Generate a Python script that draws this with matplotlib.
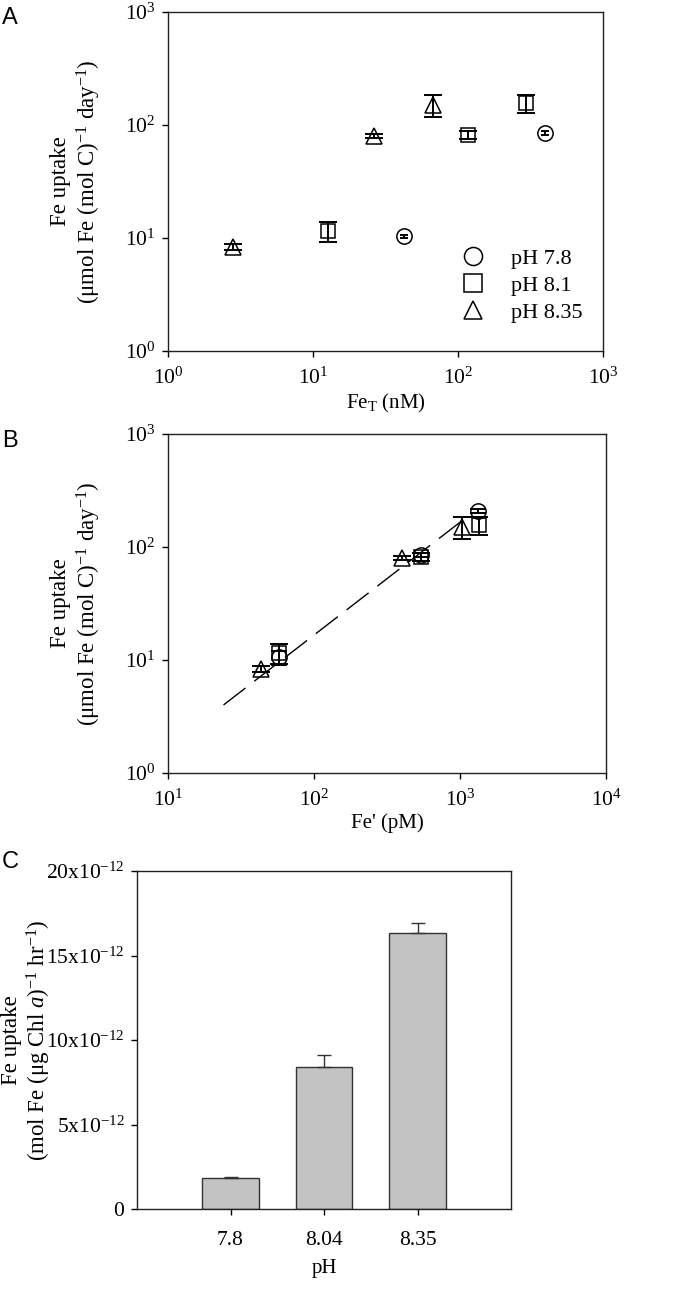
import matplotlib
matplotlib.use("Agg")
import matplotlib.pyplot as plt
from matplotlib.ticker import LogLocator, NullLocator, FixedLocator, FixedFormatter
from matplotlib.lines import Line2D
import numpy as np

plt.rcParams['font.family'] = ['Liberation Serif', 'DejaVu Serif']
plt.rcParams['mathtext.fontset'] = 'custom'
plt.rcParams['mathtext.rm'] = 'Liberation Serif'
plt.rcParams['mathtext.it'] = 'Liberation Serif:italic'
plt.rcParams['mathtext.bf'] = 'Liberation Serif:bold'

# ---------------- Panel A data (Fe uptake vs Fe_T, nM) ----------------
a_ph78_x = [42.5, 398]
a_ph78_y = [10.4, 85]
a_ph78_err = [0.3, 3]

a_ph81_x = [12.7, 117, 295]
a_ph81_y = [11.5, 82, 156]
a_ph81_err = [2.3, 7, 28]

a_ph835_x = [2.8, 26.3, 67]
a_ph835_y = [8.3, 80, 150]
a_ph835_err = [0.5, 4, 33]

# ---------------- Panel B data (Fe uptake vs Fe', pM) ----------------
b_ph78_x = [58, 537, 1330]
b_ph78_y = [10.6, 85, 208]
b_ph78_err = [1.5, 3, 10]

b_ph81_x = [58, 537, 1340]
b_ph81_y = [11.5, 82, 156]
b_ph81_err = [2.3, 7, 28]

b_ph835_x = [43.5, 400, 1030]
b_ph835_y = [8.3, 80, 150]
b_ph835_err = [0.5, 4, 33]

fit_x = [24, 1100]
fit_y = [4.0, 182]

# ---------------- Panel C data (bar chart) ----------------
c_ph_labels = ['7.8', '8.04', '8.35']
c_uptake = [1.83e-12, 8.40e-12, 16.35e-12]
c_err = [0.07e-12, 0.71e-12, 0.59e-12]
c_yticks = [0, 5e-12, 10e-12, 15e-12, 20e-12]
c_yticklabels = ['0', r'5x10$^{-12}$', r'10x10$^{-12}$', r'15x10$^{-12}$', r'20x10$^{-12}$']

series_labels = ['pH 7.8', 'pH 8.1', 'pH 8.35']
series_markers = ['o', 's', '^']

W, H = 680, 1291
fig = plt.figure(figsize=(W / 100, H / 100), dpi=100)


def px_axes(l, t, r, b):
    return fig.add_axes([l / W, 1 - b / H, (r - l) / W, (b - t) / H])


TICK_FS = 15.5
XLAB_FS = 15
YLAB_FS = 16.5
ylab_text = 'Fe uptake\n' + r'($\mathrm{\mu}$mol Fe (mol C)$^{-1}$ day$^{-1}$)'


def style_log_axes(ax):
    ax.set_xscale('log')
    ax.set_yscale('log')
    ax.xaxis.set_major_locator(LogLocator(base=10, numticks=10))
    ax.yaxis.set_major_locator(LogLocator(base=10, numticks=10))
    ax.xaxis.set_minor_locator(NullLocator())
    ax.yaxis.set_minor_locator(NullLocator())
    ax.tick_params(direction='out', length=4, width=1, labelsize=TICK_FS, pad=5)
    ax.tick_params(axis='x', pad=8)
    for s in ax.spines.values():
        s.set_linewidth(1.0)
        s.set_color('#222222')


def draw_series(ax, xs, ys, errs, marker, label, cap, ms):
    ax.errorbar(xs, ys, yerr=errs, fmt='none', ecolor='black', elinewidth=1.4,
                capsize=cap, capthick=1.4, zorder=3)
    ax.plot(xs, ys, linestyle='none', marker=marker, markersize=ms,
            markerfacecolor='none', markeredgecolor='black', markeredgewidth=1.1,
            label=label, zorder=4)


# ---------------- Panel A ----------------
axA = px_axes(168, 12, 603, 351)
style_log_axes(axA)
axA.set_xlim(1, 1000)
axA.set_ylim(1, 1000)
draw_series(axA, a_ph78_x, a_ph78_y, a_ph78_err, 'o', series_labels[0], 3, 11)
draw_series(axA, a_ph81_x, a_ph81_y, a_ph81_err, 's', series_labels[1], 6.5, 10.5)
draw_series(axA, a_ph835_x, a_ph835_y, a_ph835_err, '^', series_labels[2], 6.5, 11)
axA.set_xlabel(r'Fe$_{\mathrm{T}}$ (nM)', fontsize=XLAB_FS, labelpad=2)
axA.set_ylabel(ylab_text, fontsize=YLAB_FS, linespacing=1.15)
axA.yaxis.set_label_coords(-0.15, 0.5)

handles = [Line2D([], [], linestyle='none', marker=m, markersize=13,
                  markerfacecolor='none', markeredgecolor='black', markeredgewidth=1.1)
           for m in series_markers]
axA.legend(handles, series_labels, loc='upper left', frameon=False, fontsize=16,
           bbox_to_anchor=(460 / W, 1 - 248 / H), bbox_transform=fig.transFigure,
           borderpad=0, borderaxespad=0, handlelength=1.2, handletextpad=1.1,
           labelspacing=0.3)

# ---------------- Panel B ----------------
axB = px_axes(168, 434, 606, 773)
style_log_axes(axB)
axB.set_xlim(10, 10000)
axB.set_ylim(1, 1000)
axB.plot(fit_x, fit_y, color='black', linewidth=1.0, dashes=(20, 8), zorder=2)
draw_series(axB, b_ph78_x, b_ph78_y, b_ph78_err, 'o', series_labels[0], 6, 11)
draw_series(axB, b_ph81_x, b_ph81_y, b_ph81_err, 's', series_labels[1], 6.5, 10.5)
draw_series(axB, b_ph835_x, b_ph835_y, b_ph835_err, '^', series_labels[2], 6.5, 11)
axB.set_xlabel("Fe' (pM)", fontsize=XLAB_FS, labelpad=2)
axB.set_ylabel(ylab_text, fontsize=YLAB_FS, linespacing=1.15)
axB.yaxis.set_label_coords(-0.149, 0.5)

# ---------------- Panel C ----------------
axC = px_axes(137, 871, 511, 1209)
pos = np.arange(1, len(c_ph_labels) + 1)
axC.bar(pos, c_uptake, width=0.6, color='#c3c3c3', edgecolor='#333333', linewidth=1.0, zorder=2)
axC.errorbar(pos, c_uptake, yerr=[np.zeros(len(c_err)), c_err], fmt='none',
             ecolor='#333333', elinewidth=1.0, capsize=5, capthick=1.0, zorder=3)
axC.set_xlim(0, 4)
axC.set_ylim(0, 20e-12)
axC.xaxis.set_major_locator(FixedLocator(pos))
axC.xaxis.set_major_formatter(FixedFormatter(c_ph_labels))
axC.yaxis.set_major_locator(FixedLocator(c_yticks))
axC.yaxis.set_major_formatter(FixedFormatter(c_yticklabels))
axC.tick_params(direction='out', length=4, width=1, labelsize=TICK_FS, pad=5)
axC.tick_params(axis='x', pad=12)
for s in axC.spines.values():
    s.set_linewidth(1.0)
    s.set_color('#222222')
axC.set_xlabel('pH', fontsize=XLAB_FS, labelpad=6)
axC.set_ylabel('Fe uptake\n' + r'(mol Fe ($\mathrm{\mu}$g Chl $a$)$^{-1}$ hr$^{-1}$)',
               fontsize=YLAB_FS, linespacing=1.15)
axC.yaxis.set_label_coords(-0.225, 0.5)

# ---------------- Panel letters ----------------
for letter, y in [('A', 18), ('B', 441), ('C', 862)]:
    fig.text(2 / W, 1 - y / H, letter, fontsize=17, family=['Liberation Sans', 'DejaVu Sans'],
             ha='left', va='center')

fig.savefig('out.png', dpi=100)
